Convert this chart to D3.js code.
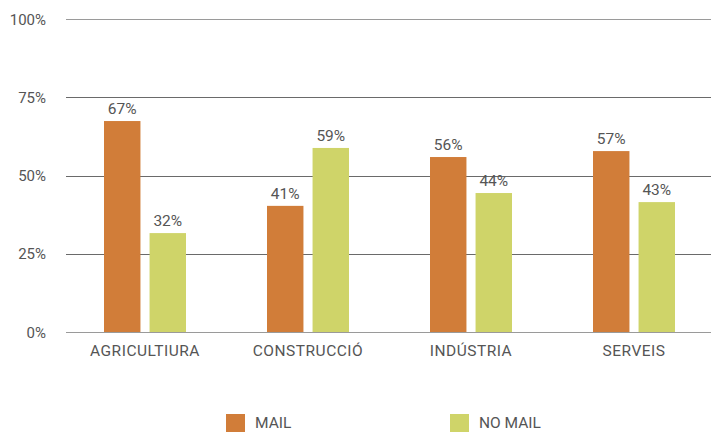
<!DOCTYPE html>
<html><head><meta charset="utf-8">
<script src="https://cdn.jsdelivr.net/npm/d3@7"></script>
<style>body{margin:0;background:#fff}svg{display:block}text{font-family:Roboto,"DejaVu Sans",sans-serif;fill:#555}</style>
</head><body><svg id="c" width="711" height="432"></svg>
<script>
const categories = ["AGRICULTIURA","CONSTRUCCIÓ","INDÚSTRIA","SERVEIS"];
const mailValues = [67.4, 40.3, 55.9, 57.8];
const noMailValues = [31.6, 58.8, 44.4, 41.5];
const mailLabels = ["67%","41%","56%","57%"];
const noMailLabels = ["32%","59%","44%","43%"];
const seriesNames = ["MAIL","NO MAIL"];
const seriesColors = ["#D17D39","#CFD469"];
const yTicks = [0,25,50,75,100];

const svg = d3.select("#c");
const y = d3.scaleLinear().domain([0,100]).range([332,19]);
const x = d3.scaleBand().domain(categories).range([64,716]);
const sub = d3.scaleBand().domain(seriesNames).range([-41,41]).paddingInner(0.2);
const cx = c => Math.floor(x(c)+x.bandwidth()/2);

// grid
svg.append("g").selectAll("line").data(yTicks).join("line")
  .attr("x1",66).attr("x2",711)
  .attr("y1",d=>Math.round(y(d))+0.5).attr("y2",d=>Math.round(y(d))+0.5)
  .attr("stroke",d=>(d===100||d===0)?"#9a9a9a":"#6a6a6a").attr("stroke-width",1);
svg.append("g").selectAll("text").data(yTicks).join("text")
  .attr("x",46).attr("y",d=>y(d)+5.5).attr("text-anchor","end")
  .attr("font-size",15).text(d=>d+"%");

const series = [
  {name:seriesNames[0], vals:mailValues, labs:mailLabels, color:seriesColors[0]},
  {name:seriesNames[1], vals:noMailValues, labs:noMailLabels, color:seriesColors[1]}
];
series.forEach(s=>{
  const g = svg.append("g");
  g.selectAll("rect").data(categories).join("rect")
    .attr("x",(c)=>cx(c)+sub(s.name))
    .attr("width",sub.bandwidth())
    .attr("y",(c,i)=>y(s.vals[i]))
    .attr("height",(c,i)=>y(0)-y(s.vals[i]))
    .attr("fill",s.color);
  g.selectAll("text").data(categories).join("text")
    .attr("x",(c)=>cx(c)+sub(s.name)+sub.bandwidth()/2)
    .attr("y",(c,i)=>y(s.vals[i])-7)
    .attr("text-anchor","middle").attr("font-size",15.5)
    .text((c,i)=>s.labs[i]);
});

svg.append("g").selectAll("text").data(categories).join("text")
  .attr("x",c=>cx(c)).attr("y",356)
  .attr("text-anchor","middle").attr("font-size",15.5).attr("letter-spacing",0.5).text(c=>c);

// legend
const legX = [226,450];
series.forEach((s,i)=>{
  svg.append("rect").attr("x",legX[i]).attr("y",414).attr("width",19).attr("height",18).attr("fill",s.color);
  svg.append("text").attr("x",legX[i]+29).attr("y",428).attr("font-size",15.5).text(s.name);
});
</script></body></html>
